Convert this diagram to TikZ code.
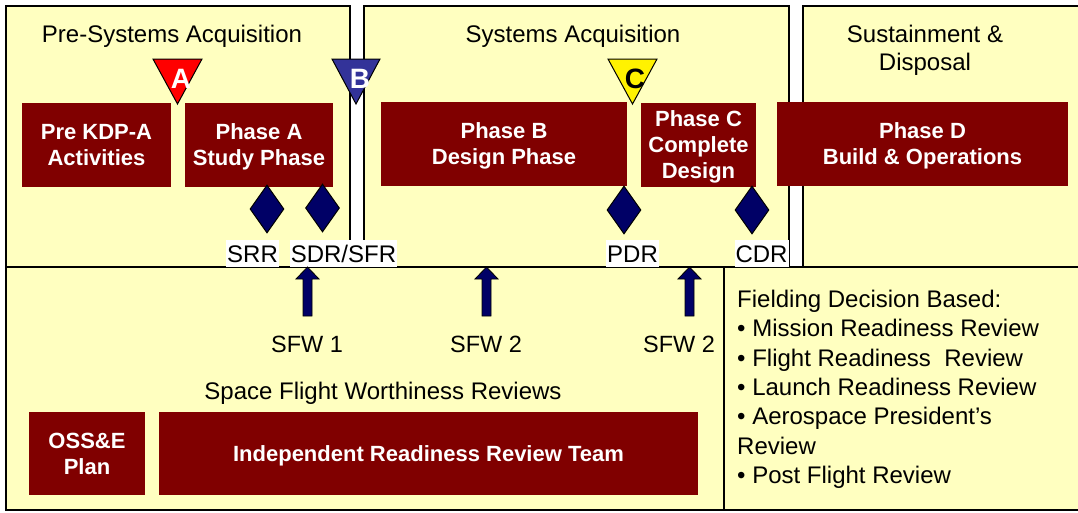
\documentclass[tikz,border=0pt]{standalone}
\usepackage{fontspec}
\setmainfont{Liberation Sans}
\usetikzlibrary{shapes.geometric}

\definecolor{paleyellow}{HTML}{FFFFC0}
\definecolor{phasered}{HTML}{800000}
\definecolor{reviewblue}{HTML}{000066}
\definecolor{msblue}{HTML}{333399}

\tikzstyle{panel}=[draw=black,line width=1.5pt,fill=paleyellow]
\tikzstyle{title}=[inner sep=0pt,font=\fontsize{24}{28}\selectfont]
\tikzstyle{phase}=[fill=phasered,text=white,align=center,inner sep=0pt,text depth=0pt,font=\bfseries\fontsize{22}{26}\selectfont]
\tikzstyle{milestone}=[draw=black,line width=1pt,line join=miter]
\tikzstyle{msletter}=[anchor=base,inner sep=0pt,font=\bfseries\fontsize{28}{30}\selectfont]
\tikzstyle{review}=[diamond,draw=black,line width=1pt,fill=reviewblue,minimum width=34pt,minimum height=48pt,inner sep=0pt]
\tikzstyle{revlabel}=[fill=white,anchor=base,inner xsep=1pt,inner ysep=5pt,text height=17pt,text depth=0pt,font=\fontsize{24}{28}\selectfont]
\tikzstyle{sfwarrow}=[draw=black,line width=0.8pt,fill=reviewblue,line join=miter]
\tikzstyle{sfwlabel}=[anchor=base,inner sep=0pt,font=\fontsize{23.5}{28}\selectfont]

\begin{document}
\begin{tikzpicture}[x=1pt,y=-1pt]
	\fill[white] (0,0) rectangle (1078,512);
	\useasboundingbox (0,0) rectangle (1078,512);

	% panels
	\draw[panel] (6,267)   rectangle (724,510);
	\draw[panel] (724,267) rectangle (1084,510);
	\draw[panel] (6,6)     rectangle (350,267);
	\draw[panel] (364,6)   rectangle (789,267);
	\draw[panel] (803,6)   rectangle (1084,267);

	\node [title,anchor=base] (presys)  at (172,42)   {Pre-Systems Acquisition};
	\node [title,anchor=base] (sys)     at (573,42)   {Systems Acquisition};
	\node [title,anchor=north,align=center] (sustain) at (925,24.5) {Sustainment \&\\Disposal};

	% phases
	\node [phase,minimum width=149pt,minimum height=84pt] (prekdpa) at (96.5,145)  {Pre KDP-A\\Activities};
	\node [phase,minimum width=148pt,minimum height=84pt] (phaseA)  at (259,145)   {Phase A\\Study Phase};
	\node [phase,minimum width=246pt,minimum height=84pt] (phaseB)  at (504,144)   {Phase B\\Design Phase};
	\node [phase,minimum width=115pt,minimum height=84pt] (phaseC)  at (698.5,145) {Phase C\\Complete\\Design};
	\node [phase,minimum width=291pt,minimum height=84pt] (phaseD)  at (922.5,144) {Phase D\\Build \& Operations};

	% milestones
	\draw[milestone,fill=red]    (153,59) -- (202,59) -- (177.5,104) -- cycle;
	\draw[milestone,fill=msblue] (332,59) -- (380,59) -- (356,104)   -- cycle;
	\draw[milestone,fill=yellow] (608,59) -- (657,59) -- (632.5,104) -- cycle;
	\node [msletter,text=white] (msA) at (181,88) {A};
	\node [msletter,text=white] (msB) at (360,88) {B};
	\node [msletter,text=black] (msC) at (635,88) {C};

	% reviews
	\node [review] (srr) at (267,209)   {};
	\node [review] (sdr) at (322.5,208) {};
	\node [review] (pdr) at (624,210)   {};
	\node [review] (cdr) at (752,210)   {};
	\node [revlabel] (srrlabel) at (252.5,262) {SRR};
	\node [revlabel] (sdrlabel) at (343.5,262) {SDR/SFR};
	\node [revlabel] (pdrlabel) at (632.5,262) {PDR};
	\node [revlabel] (cdrlabel) at (761.5,262) {CDR};

	% space flight worthiness
	\coordinate (sfw1tip) at (307.5,267);
	\coordinate (sfw2tip) at (486.5,267);
	\coordinate (sfw3tip) at (689.5,267);
	\draw[sfwarrow] (sfw1tip) -- ++(11.5,12) -- ++(-7,0) -- ++(0,37) -- ++(-9,0) -- ++(0,-37) -- ++(-7,0) -- cycle;
	\draw[sfwarrow] (sfw2tip) -- ++(11.5,12) -- ++(-7,0) -- ++(0,37) -- ++(-9,0) -- ++(0,-37) -- ++(-7,0) -- cycle;
	\draw[sfwarrow] (sfw3tip) -- ++(11.5,12) -- ++(-7,0) -- ++(0,37) -- ++(-9,0) -- ++(0,-37) -- ++(-7,0) -- cycle;
	\node [sfwlabel] (sfw1) at (307,352) {SFW 1};
	\node [sfwlabel] (sfw2) at (486,352) {SFW 2};
	\node [sfwlabel] (sfw3) at (679,352) {SFW 2};
	\node [title,anchor=base] (sfwr) at (383,399) {Space Flight Worthiness Reviews};

	\node [phase,minimum width=116pt,minimum height=83pt] (osse)  at (87,453.5)    {OSS\&E\\Plan};
	\node [phase,minimum width=539pt,minimum height=83pt] (irrt)  at (428.5,453.5) {Independent Readiness Review Team};

	% fielding
	\node [title,anchor=north west,align=left,font=\fontsize{24}{29.3}\selectfont] (fielding) at (737,290)
		{Fielding Decision Based:\\
		 \textbullet{} Mission Readiness Review\\
		 \textbullet{} Flight Readiness~ Review\\
		 \textbullet{} Launch Readiness Review\\
		 \textbullet{} Aerospace President’s\\
		 Review\\
		 \textbullet{} Post Flight Review};
\end{tikzpicture}
\end{document}
